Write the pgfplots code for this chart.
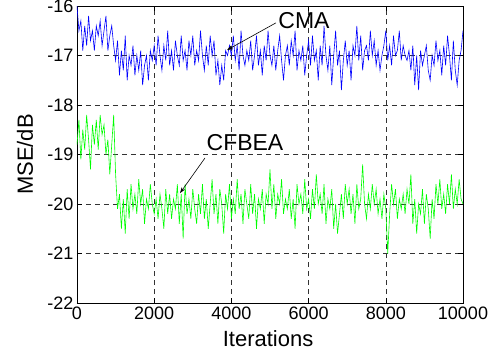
\documentclass[border=0pt]{standalone}
\usepackage{pgfplots}
\pgfplotsset{compat=1.18}
\usepackage{fontspec}
\setmainfont{Liberation Sans}
\usetikzlibrary{arrows.meta}
\pgfplotstableread{
x y
0 -16.0
50 -16.5
100 -16.3
150 -16.9
200 -16.4
250 -16.8
300 -16.2
350 -16.7
400 -16.5
450 -16.9
500 -16.4
550 -16.6
600 -16.3
650 -16.8
700 -16.5
750 -16.2
800 -16.9
850 -16.6
900 -16.4
950 -16.8
1000 -17.1
1050 -16.7
1100 -17.4
1150 -16.9
1200 -17.3
1250 -16.6
1300 -17.5
1350 -17.0
1400 -17.2
1450 -16.8
1500 -17.4
1550 -17.0
1600 -17.3
1650 -16.9
1700 -17.6
1750 -17.2
1800 -17.0
1850 -17.5
1900 -16.9
1950 -17.1
2000 -16.8
2050 -17.2
2100 -16.6
2150 -17.0
2200 -17.3
2250 -16.8
2300 -17.1
2350 -16.5
2400 -17.2
2450 -16.9
2500 -17.3
2550 -16.7
2600 -17.0
2650 -17.2
2700 -16.6
2750 -17.1
2800 -16.9
2850 -17.3
2900 -16.7
2950 -17.0
3000 -16.6
3050 -17.2
3100 -16.9
3150 -17.1
3200 -16.5
3250 -17.0
3300 -17.3
3350 -16.8
3400 -17.2
3450 -16.6
3500 -17.0
3550 -16.7
3600 -17.4
3650 -17.1
3700 -17.6
3750 -17.2
3800 -17.5
3850 -16.9
3900 -17.0
3950 -16.8
4000 -17.0
4050 -16.6
4100 -17.1
4150 -16.8
4200 -17.3
4250 -16.5
4300 -17.0
4350 -17.2
4400 -16.9
4450 -17.1
4500 -16.7
4550 -17.3
4600 -17.0
4650 -16.6
4700 -17.2
4750 -16.9
4800 -17.4
4850 -16.8
4900 -17.1
4950 -16.5
5000 -17.0
5050 -17.2
5100 -16.8
5150 -17.3
5200 -16.9
5250 -16.6
5300 -17.1
5350 -17.5
5400 -17.0
5450 -16.8
5500 -17.2
5550 -16.7
5600 -17.0
5650 -16.5
5700 -17.3
5750 -16.9
5800 -17.1
5850 -16.8
5900 -17.4
5950 -17.0
6000 -16.7
6050 -17.2
6100 -16.6
6150 -17.1
6200 -16.9
6250 -17.5
6300 -16.8
6350 -17.2
6400 -16.4
6450 -17.0
6500 -17.3
6550 -16.8
6600 -17.6
6650 -17.0
6700 -16.5
6750 -17.2
6800 -16.9
6850 -17.7
6900 -17.1
6950 -16.7
7000 -17.2
7050 -16.9
7100 -17.5
7150 -16.8
7200 -17.0
7250 -16.4
7300 -17.1
7350 -16.6
7400 -17.3
7450 -16.9
7500 -16.8
7550 -17.1
7600 -16.5
7650 -17.0
7700 -16.7
7750 -17.2
7800 -16.9
7850 -17.3
7900 -17.0
7950 -16.8
8000 -16.5
8050 -17.1
8100 -16.8
8150 -17.2
8200 -16.6
8250 -17.0
8300 -16.9
8350 -16.5
8400 -17.1
8450 -16.8
8500 -17.0
8550 -17.1
8600 -16.9
8650 -17.3
8700 -16.8
8750 -17.6
8800 -17.0
8850 -17.7
8900 -16.9
8950 -17.2
9000 -17.0
9050 -16.8
9100 -17.3
9150 -17.5
9200 -17.0
9250 -17.2
9300 -16.7
9350 -17.1
9400 -16.9
9450 -17.4
9500 -16.8
9550 -17.2
9600 -16.6
9650 -17.0
9700 -17.5
9750 -16.7
9800 -17.3
9850 -17.6
9900 -17.1
9950 -16.9
10000 -16.5
}\cma
\pgfplotstableread{
x y
0 -18.8
50 -18.3
100 -19.1
150 -18.5
200 -18.9
250 -18.2
300 -18.7
350 -19.3
400 -18.4
450 -18.8
500 -18.3
550 -18.9
600 -18.2
650 -18.6
700 -18.4
750 -19.0
800 -18.7
850 -19.4
900 -18.8
950 -18.2
1000 -19.4
1050 -20.1
1100 -19.8
1150 -20.5
1200 -19.9
1250 -20.6
1300 -19.7
1350 -20.3
1400 -19.6
1450 -20.1
1500 -19.8
1550 -20.2
1600 -19.5
1650 -20.0
1700 -19.7
1750 -20.4
1800 -19.9
1850 -20.1
1900 -19.6
1950 -20.0
2000 -20.2
2050 -19.9
2100 -20.3
2150 -19.8
2200 -20.1
2250 -20.5
2300 -19.7
2350 -20.2
2400 -19.8
2450 -20.3
2500 -19.9
2550 -20.1
2600 -19.6
2650 -20.4
2700 -19.8
2750 -20.7
2800 -19.6
2850 -20.2
2900 -19.9
2950 -20.3
3000 -19.7
3050 -20.1
3100 -20.4
3150 -19.8
3200 -20.2
3250 -19.6
3300 -20.3
3350 -19.9
3400 -20.5
3450 -20.0
3500 -19.5
3550 -20.2
3600 -19.8
3650 -20.4
3700 -19.7
3750 -20.0
3800 -20.6
3850 -19.8
3900 -20.1
3950 -19.6
4000 -20.3
4050 -19.9
4100 -20.2
4150 -19.5
4200 -20.1
4250 -19.8
4300 -20.4
4350 -19.7
4400 -20.0
4450 -20.3
4500 -19.6
4550 -20.2
4600 -19.8
4650 -20.5
4700 -19.9
4750 -20.1
4800 -19.7
4850 -20.4
4900 -19.8
4950 -20.0
5000 -19.3
5050 -20.1
5100 -19.6
5150 -20.3
5200 -19.8
5250 -20.0
5300 -19.5
5350 -20.2
5400 -19.9
5450 -20.1
5500 -19.7
5550 -20.3
5600 -19.9
5650 -20.5
5700 -19.6
5750 -20.0
5800 -19.8
5850 -20.2
5900 -19.5
5950 -20.1
6000 -19.9
6050 -20.3
6100 -19.7
6150 -20.1
6200 -19.4
6250 -20.0
6300 -19.8
6350 -20.2
6400 -19.6
6450 -20.4
6500 -19.9
6550 -20.1
6600 -19.7
6650 -20.5
6700 -20.0
6750 -20.6
6800 -20.2
6850 -19.8
6900 -20.3
6950 -19.6
7000 -20.0
7050 -19.7
7100 -20.2
7150 -19.8
7200 -20.4
7250 -19.6
7300 -20.1
7350 -19.9
7400 -19.2
7450 -20.0
7500 -20.3
7550 -19.8
7600 -20.1
7650 -19.6
7700 -20.0
7750 -19.7
7800 -20.2
7850 -19.9
7900 -20.3
7950 -19.8
8000 -20.1
8050 -21.0
8100 -20.2
8150 -19.6
8200 -20.0
8250 -19.7
8300 -20.3
8350 -19.9
8400 -20.1
8450 -19.8
8500 -20.2
8550 -19.7
8600 -20.0
8650 -19.4
8700 -20.4
8750 -19.9
8800 -20.6
8850 -20.0
8900 -20.2
8950 -19.7
9000 -20.4
9050 -19.8
9100 -20.1
9150 -20.7
9200 -19.9
9250 -20.3
9300 -19.6
9350 -20.0
9400 -19.5
9450 -20.1
9500 -19.8
9550 -20.2
9600 -19.6
9650 -20.0
9700 -19.4
9750 -20.1
9800 -19.7
9850 -20.0
9900 -19.5
9950 -19.9
10000 -20.0
}\cfbea
\begin{document}
\begin{tikzpicture}
\useasboundingbox (-77bp,-55bp) rectangle (423bp,303bp);
\begin{axis}[
  scale only axis,
  width=386bp, height=297bp,
  xmin=0, xmax=10000, ymin=-22, ymax=-16,
  xtick={0,2000,...,10000},
  ytick={-22,-21,...,-16},
  scaled x ticks=false,
  /pgf/number format/assume math mode=true,
  xticklabel style={/pgf/number format/1000 sep={}},
  tick label style={font=\fontsize{18bp}{20bp}\selectfont},
  label style={font=\fontsize{22bp}{24bp}\selectfont},
  xlabel={Iterations},
  ylabel={MSE/dB},
  xlabel style={at={(axis description cs:0.495,-0.121)}, anchor=center},
  ylabel style={at={(axis description cs:-0.135,0.5)}, anchor=center, rotate=0},
  grid=major,
  major grid style={dash pattern=on 5bp off 4bp, black!80, line width=0.6bp},
  tick align=inside,
  major tick length=5bp,
  tick style={black, line width=0.6bp},
  axis line style={line width=0.9bp},
  clip=true,
]
\addplot[blue, line width=0.6bp] table[x=x,y=y] {\cma};
\addplot[green, line width=0.6bp] table[x=x,y=y] {\cfbea};
\node[font=\fontsize{23bp}{25bp}\selectfont] at (axis cs:5881,-16.30) {CMA};
\draw[-{Stealth[length=6bp,width=4bp]}, line width=0.6bp] (axis cs:5155,-16.34) -- (axis cs:3886,-16.89);
\node[font=\fontsize{23bp}{25bp}\selectfont] at (axis cs:4352,-18.75) {CFBEA};
\draw[-{Stealth[length=6bp,width=4bp]}, line width=0.6bp] (axis cs:3316,-19.07) -- (axis cs:2668,-19.78);
\end{axis}
\end{tikzpicture}
\end{document}
